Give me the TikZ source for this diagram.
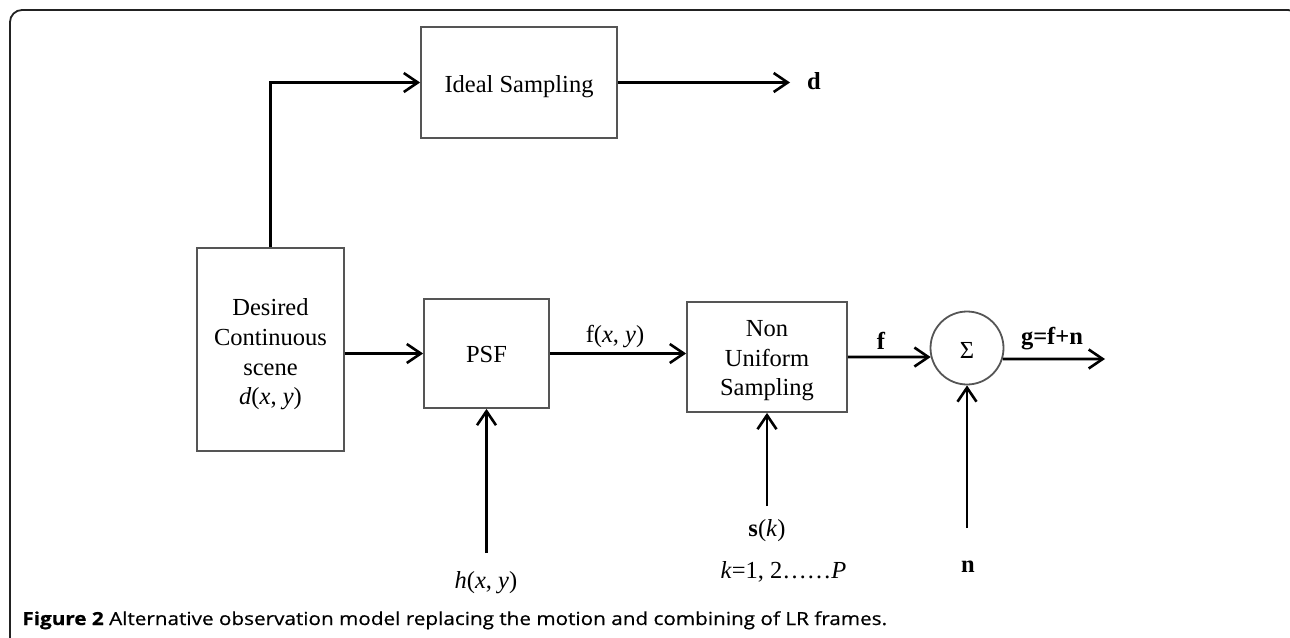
\documentclass[tikz,border=0pt]{standalone}
\usepackage{fontspec}
\setmainfont{Liberation Serif}
\newfontfamily\capfont[FakeStretch=1.15, FakeBold=0.6]{Open Sans}
\usetikzlibrary{arrows.meta,calc}
\definecolor{boxgray}{HTML}{555555}
\definecolor{framegray}{HTML}{222222}
\begin{document}
\begin{tikzpicture}[x=0.5pt,y=-0.5pt,
  every node/.style={font=\fontsize{12.25}{14.8}\selectfont},
  block/.style={draw=boxgray, line width=0.9pt, inner sep=0pt},
  conn/.style={line width=1.35pt, -{Straight Barb[length=7pt,width=9.5pt,line width=1.3pt]}},
  lbl/.style={inner sep=0pt, align=center}
]
\useasboundingbox (0,0) rectangle (1290,637);

% outer frame (runs past the page at right and bottom)
\draw[framegray, line width=0.9pt, rounded corners=6pt]
  (10,700) -- (10,10) -- (1300,10) -- (1300,700);

% blocks
\node[block, minimum width=98pt, minimum height=55.5pt] (ideal) at (519,82.5) {};
\node[block, minimum width=73.5pt, minimum height=101.5pt] (scene) at (270.5,349.5) {};
\node[block, minimum width=62.5pt, minimum height=54.5pt] (psf) at (486.5,353.5) {};
\node[block, minimum width=80pt, minimum height=55pt] (nus) at (767,357) {};
\node[block, circle, minimum size=36.5pt] (sum) at (967,348) {};

% block texts
\node[lbl] (idealtxt) at ($(ideal.center)+(0,4)$) {Ideal Sampling};
\node[lbl] (scenetxt) at ($(scene.center)+(0,5)$)
  {Desired\\Continuous\\scene\\\textit{d}(\textit{x}, \textit{y})};
\node[lbl] (psftxt) at ($(psf.center)+(0,1.5)$) {PSF};
\node[lbl] (nustxt) at ($(nus.center)+(0,4)$) {Non\\Uniform\\Sampling};
\node[lbl] (sumtxt) at ($(sum.center)+(0,2)$) {Σ};

% free ends of the connectors
\coordinate (dout) at (790,82.5);
\coordinate (gout) at (1105,359);
\coordinate (hin) at (486.5,553);
\coordinate (sin) at (767,506);
\coordinate (nin) at (967,528);

% connectors
\draw[conn] (scene.north) |- (ideal.west);
\draw[conn] (ideal.east) -- (dout);
\draw[conn] (scene.east |- psf.west) -- (psf.west);
\draw[conn] (psf.east) -- (psf.east -| nus.west);
\draw[conn] (nus.east) -- (sum.194.3);
\draw[conn] (sum.-17.5) -- (gout);
\draw[conn] (hin) -- (psf.south);
\draw[conn] (sin) -- (nus.south);
\draw[conn] (nin) -- (sum.south);

% labels
\node[lbl] (dl) at (814,81) {\textbf{d}};
\node[lbl] (fxy) at (615,337) {f(\textit{x}, \textit{y})};
\node[lbl] (fl) at (881,341) {\textbf{f}};
\node[lbl] (gl) at (1052,339) {\textbf{g=f+n}};
\node[lbl] (hl) at (486,583) {\textit{h}(\textit{x}, \textit{y})};
\node[lbl] (sl) at (767,531) {\textbf{s}(\textit{k})};
\node[lbl] (kl) at (783.5,572) {\textit{k}=1, 2……\textit{P}};
\node[lbl] (nl) at (968,567) {\textbf{n}};

% caption
\node[anchor=base west, inner sep=0pt, font=\capfont\fontsize{9}{10}\selectfont] (cap) at (22,625)
  {\textbf{Figure 2} Alternative observation model replacing the motion and combining of LR frames.};
\end{tikzpicture}
\end{document}
